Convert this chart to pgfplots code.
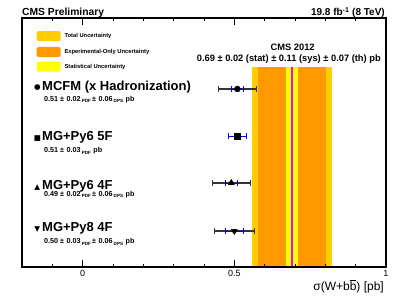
\documentclass[border=0pt]{standalone}
\usepackage{pgfplots}
\pgfplotsset{compat=1.18}
\usepackage{fontspec}
\setmainfont{Liberation Sans}
\newfontfamily\sym{DejaVu Sans}
\definecolor{totc}{RGB}{255,204,0}
\definecolor{expc}{RGB}{255,153,0}
\definecolor{statc}{RGB}{255,255,0}
\definecolor{cmag}{RGB}{255,0,255}
\newcommand\fs[1]{\fontsize{#1}{#1}\selectfont}
\newcommand\bbar{\leavevmode\rlap{\kern0.04em\raisebox{1.55ex}{\rule{0.48em}{0.06em}}}b}
\newcommand\sub[1]{\,\raisebox{-0.45ex}{\fs{4.6}#1}}
\begin{document}
\begin{tikzpicture}
\path[use as bounding box] (-22pt,-33pt) rectangle (385pt,267pt);
\begin{axis}[
  at={(0,0)}, anchor=south west,
  scale only axis, width=364pt, height=249pt,
  xmin=-0.2, xmax=1, ymin=0, ymax=249,
  ytick=\empty,
  xtick={0,0.5,1}, xticklabels={0,0.5,1},
  minor xtick={-0.1,0.1,0.2,0.3,0.4,0.6,0.7,0.8,0.9},
  major tick length=7pt, minor tick length=3.5pt,
  tick style={black, line width=0.7pt},
  axis line style={line width=1.3pt},
  ticklabel style={font=\fs{9}},
  clip=false, axis on top,
]
\addplot[draw=none, fill=totc] coordinates {(0.558,0) (0.822,0) (0.822,199.5) (0.558,199.5)} --cycle;
\addplot[draw=none, fill=expc] coordinates {(0.578,0) (0.802,0) (0.802,199.5) (0.578,199.5)} --cycle;
\addplot[draw=none, fill=statc] coordinates {(0.67,0) (0.71,0) (0.71,199.5) (0.67,199.5)} --cycle;
\addplot[cmag, line width=1.8pt] coordinates {(0.69,0) (0.69,199.5)};
% total (PDF + DPS) error bars
\addplot[only marks, mark=none,
  error bars/.cd, x dir=both, x explicit, error mark=|,
  error bar style={black!80, line width=1.2pt},
  error mark options={black!80, line width=0.9pt, mark size=2.6pt}]
  coordinates {(0.51,178) +- (0.063,0) (0.49,84) +- (0.063,0) (0.50,36) +- (0.067,0)};
% PDF error bars with central markers
\addplot[only marks, black, mark=*, mark size=3pt,
  error bars/.cd, x dir=both, x explicit, error mark=|,
  error bar style={blue, line width=0.9pt},
  error mark options={blue, line width=0.8pt, mark size=2.6pt}]
  coordinates {(0.51,178) +- (0.02,0)};
\addplot[only marks, black, mark=square*, mark size=3.2pt,
  error bars/.cd, x dir=both, x explicit, error mark=|,
  error bar style={blue, line width=0.9pt},
  error mark options={blue, line width=0.8pt, mark size=2.6pt}]
  coordinates {(0.51,131) +- (0.03,0)};
\addplot[only marks, black, mark=triangle*, mark size=3.5pt,
  error bars/.cd, x dir=both, x explicit, error mark=|,
  error bar style={blue, line width=0.9pt},
  error mark options={blue, line width=0.8pt, mark size=2.6pt}]
  coordinates {(0.49,84) +- (0.02,0)};
\addplot[only marks, black, mark=triangle*, mark size=3.5pt, mark options={rotate=180},
  error bars/.cd, x dir=both, x explicit, error mark=|,
  error bar style={blue, line width=0.9pt},
  error mark options={blue, line width=0.8pt, mark size=2.6pt, rotate=0}]
  coordinates {(0.50,36) +- (0.03,0)};
\end{axis}
% header
\node[anchor=base west, inner sep=0] at (0pt,251.3pt) {\fs{10.3}\bfseries CMS Preliminary};
\node[anchor=base east, inner sep=0] at (363pt,251.3pt) {\fs{10}\bfseries 19.8 fb\textsuperscript{-1} (8 TeV)};
% legend
\fill[totc, rounded corners=1.5pt] (14.7pt,225.8pt) rectangle (38.7pt,235.8pt);
\fill[expc, rounded corners=1.5pt] (14.7pt,210pt) rectangle (38.7pt,220pt);
\fill[statc, rounded corners=1.5pt] (14.7pt,195.3pt) rectangle (38.7pt,205.3pt);
\node[anchor=west, inner sep=0] at (42.3pt,230.8pt) {\fs{5.8}\bfseries Total Uncertainty};
\node[anchor=west, inner sep=0] at (42.3pt,215pt) {\fs{5.8}\bfseries Experimental-Only Uncertainty};
\node[anchor=west, inner sep=0] at (42.3pt,200.3pt) {\fs{5.8}\bfseries Statistical Uncertainty};
% measurement
\node[inner sep=0] at (270.7pt,219.5pt) {\fs{9.3}\bfseries CMS 2012};
\node[inner sep=0] at (266.8pt,208pt) {\fs{9.3}\bfseries 0.69 ± 0.02 (stat) ± 0.11 (sys) ± 0.07 (th) pb};
% predictions labels
\node[inner sep=0] at (15.3pt,179.2pt) {\sym\fs{7.5}●};
\node[anchor=west, inner sep=0] at (20pt,179.5pt) {\fs{13}\bfseries MCFM (x Hadronization)};
\node[anchor=west, inner sep=0] at (22pt,167.7pt) {\fs{7.2}\bfseries 0.51 ±\,\,0.02\sub{PDF}\,±\,\,0.06\sub{DPS}\,\,pb};
\node[inner sep=0] at (15.3pt,128.3pt) {\sym\fs{7.5}■};
\node[anchor=west, inner sep=0] at (20pt,129.5pt) {\fs{13}\bfseries MG+Py6 5F};
\node[anchor=west, inner sep=0] at (22pt,116pt) {\fs{7.2}\bfseries 0.51 ±\,\,0.03\sub{PDF}\,\,pb};
\node[inner sep=0] at (15.3pt,79.8pt) {\sym\fs{7.5}▲};
\node[anchor=west, inner sep=0] at (20pt,81pt) {\fs{13}\bfseries MG+Py6 4F};
\node[anchor=west, inner sep=0] at (22pt,72.5pt) {\fs{7.2}\bfseries 0.49 ±\,\,0.02\sub{PDF}\,±\,\,0.06\sub{DPS}\,\,pb};
\node[inner sep=0] at (15.3pt,37.3pt) {\sym\fs{7.5}▼};
\node[anchor=west, inner sep=0] at (20pt,38.5pt) {\fs{13}\bfseries MG+Py8 4F};
\node[anchor=west, inner sep=0] at (22pt,25.3pt) {\fs{7.2}\bfseries 0.50 ±\,\,0.03\sub{PDF}\,±\,\,0.06\sub{DPS}\,\,pb};
% x label
\node[anchor=base east, inner sep=0] at (362pt,-23.7pt) {\fs{12}σ(W+b\bbar) [pb]};
\end{tikzpicture}
\end{document}
